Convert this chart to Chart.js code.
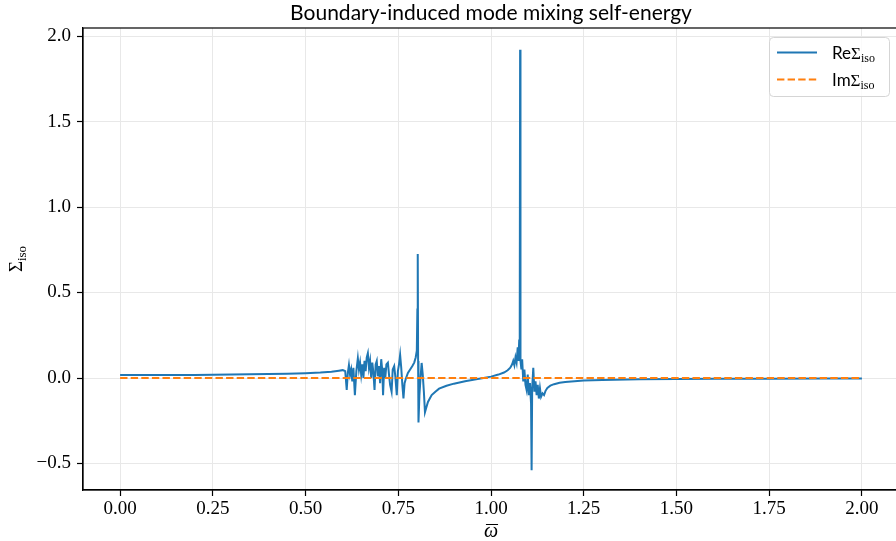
<!DOCTYPE html>
<html>
<head>
<meta charset="utf-8">
<script src="https://cdn.jsdelivr.net/npm/chart.js@4"></script>
<style>
  html, body { margin: 0; padding: 0; overflow: hidden; background: #fff; }
  canvas { display: block; }
</style>
</head>
<body>
<canvas id="chart" width="900" height="541"></canvas>
<script>
// Dimensionless frequency grid and the real part of the isotropic self-energy
const omega = [
  0.00, 0.10, 0.20, 0.30, 0.40, 0.45, 0.50, 0.54, 0.57, 0.59, 0.600,
  0.603, 0.607, 0.611, 0.614, 0.617, 0.620, 0.623, 0.626, 0.629, 0.633,
  0.637, 0.641, 0.644, 0.647, 0.650, 0.653, 0.656, 0.659, 0.662, 0.665,
  0.668, 0.671, 0.674, 0.677, 0.680, 0.683, 0.686, 0.689, 0.692, 0.695,
  0.698, 0.701, 0.704, 0.707, 0.709, 0.712, 0.715, 0.718, 0.722, 0.725,
  0.728, 0.732, 0.735, 0.739, 0.742, 0.746, 0.749, 0.752, 0.755, 0.758,
  0.761, 0.764, 0.767, 0.771, 0.776, 0.782, 0.788, 0.793, 0.797, 0.800,
  0.8015, 0.8025, 0.8035, 0.8045, 0.807, 0.810, 0.813, 0.816, 0.819, 0.822,
  0.826, 0.830, 0.835, 0.840, 0.850, 0.860, 0.880, 0.900, 0.930, 0.960,
  0.980, 1.000, 1.020, 1.035, 1.045, 1.052, 1.057, 1.060, 1.063, 1.066,
  1.069, 1.072, 1.074, 1.076, 1.0775, 1.0785, 1.0795, 1.082, 1.084, 1.087,
  1.090, 1.093, 1.096, 1.099, 1.102, 1.105, 1.108, 1.1095, 1.111, 1.114,
  1.117, 1.120, 1.123, 1.126, 1.129, 1.132, 1.135, 1.139, 1.143, 1.147,
  1.152, 1.160, 1.170, 1.185, 1.200, 1.250, 1.300, 1.400, 1.500, 1.600,
  1.750, 1.900, 2.000
];
const reSigma = [
  0.017, 0.0175, 0.018, 0.020, 0.023, 0.025, 0.028, 0.032, 0.037, 0.043, 0.046,
  0.044, 0.040, -0.070, 0.030, 0.076, 0.020, 0.050, -0.020, 0.060, -0.100,
  0.040, 0.115, 0.050, 0.090, 0.020, 0.080, 0.000, 0.100, 0.040, 0.120,
  0.145, 0.060, 0.100, 0.000, 0.090, 0.030, -0.070, 0.080, 0.100, 0.010,
  0.070, -0.030, 0.110, 0.040, -0.100, 0.060, 0.000, 0.080, 0.090, 0.020,
  -0.040, -0.080, 0.050, 0.070, 0.010, -0.100, 0.040, 0.080, 0.135, 0.060,
  -0.040, -0.120, -0.030, 0.000, 0.030, 0.050, 0.070, 0.090, 0.120, 0.160,
  0.400, 0.725, 0.100, -0.260, -0.100, 0.000, 0.088, 0.020, -0.080, -0.200,
  -0.170, -0.140, -0.120, -0.100, -0.080, -0.062, -0.045, -0.033, -0.019, -0.007,
  0.000, 0.008, 0.020, 0.032, 0.045, 0.060, 0.080, 0.100, 0.075, 0.120,
  0.090, 0.180, 0.100, 0.220, 0.300, 1.920, 0.100, 0.050, 0.110, -0.020,
  0.050, -0.040, -0.070, 0.020, -0.100, -0.030, -0.150, -0.540, -0.060, 0.060,
  -0.080, -0.020, -0.100, -0.040, -0.120, -0.060, -0.110, -0.090, -0.100, -0.075,
  -0.058, -0.045, -0.036, -0.028, -0.023, -0.015, -0.011, -0.008, -0.006, -0.005,
  -0.004, -0.003, -0.003
];
// Imaginary part vanishes across the whole range
const imOmega = [0.0, 2.0];
const imSigma = [0.0, 0.0];

const xTicks = [0, 0.25, 0.5, 0.75, 1.0, 1.25, 1.5, 1.75, 2.0];
const yTicks = [-0.5, 0.0, 0.5, 1.0, 1.5, 2.0];

const titleText = 'Boundary-induced mode mixing self-energy';

const BLUE = '#1f77b4';
const ORANGE = '#ff7f0e';
const DASH = [7.4, 3.2];
const SERIF = '"Liberation Serif", "DejaVu Serif", serif';
const SANS = 'Lato, "Open Sans", sans-serif';

const fmtMinus = s => s.replace('-', '\u2212');

// Draws a run of text pieces (base + subscript) starting at x on a baseline
function drawRuns(ctx, runs, x, y, align) {
  let total = 0;
  runs.forEach(r => { ctx.font = r.font; r.w = ctx.measureText(r.text).width; total += r.w; });
  let cx = align === 'center' ? x - total / 2 : x;
  ctx.textAlign = 'left';
  ctx.textBaseline = 'alphabetic';
  runs.forEach(r => {
    ctx.font = r.font;
    ctx.fillText(r.text, cx, y + (r.dy || 0));
    cx += r.w;
  });
}

const sigmaRuns = (prefix) => [
  { text: prefix, font: '17px ' + SANS },
  { text: 'Σ', font: '17px ' + SERIF },
  { text: 'iso', font: '12px ' + SERIF, dy: 3.5 }
];

const decorations = {
  id: 'decorations',
  afterDraw(chart) {
    const { ctx, chartArea: a } = chart;
    const midX = (a.left + a.right) / 2;
    ctx.save();
    // full frame around the axes
    ctx.strokeStyle = '#000';
    ctx.lineWidth = 1.2;
    ctx.strokeRect(a.left, a.top, a.right - a.left, a.bottom - a.top);

    ctx.fillStyle = '#000';
    // title
    ctx.font = '21px ' + SANS;
    ctx.textAlign = 'center';
    ctx.textBaseline = 'alphabetic';
    ctx.fillText(titleText, midX, 20);

    // x-axis title: omega with an overbar
    ctx.font = 'italic 20px ' + SERIF;
    const ow = ctx.measureText('ω').width;
    ctx.fillText('ω', midX, 537);
    ctx.beginPath();
    ctx.lineWidth = 1;
    ctx.moveTo(midX - ow / 2 + 2, 524.5);
    ctx.lineTo(midX + ow / 2, 524.5);
    ctx.stroke();

    // y-axis title, rotated
    ctx.save();
    ctx.translate(22, (a.top + a.bottom) / 2);
    ctx.rotate(-Math.PI / 2);
    drawRuns(ctx, [
      { text: 'Σ', font: '19px ' + SERIF },
      { text: 'iso', font: '13px ' + SERIF, dy: 4 }
    ], 0, 0, 'center');
    ctx.restore();

    // legend box
    const bx = 769.5, by = 37.5, bw = 120, bh = 59, r = 4;
    ctx.beginPath();
    ctx.moveTo(bx + r, by);
    ctx.arcTo(bx + bw, by, bx + bw, by + bh, r);
    ctx.arcTo(bx + bw, by + bh, bx, by + bh, r);
    ctx.arcTo(bx, by + bh, bx, by, r);
    ctx.arcTo(bx, by, bx + bw, by, r);
    ctx.closePath();
    ctx.fillStyle = 'rgba(255,255,255,0.8)';
    ctx.fill();
    ctx.strokeStyle = '#d5d5d5';
    ctx.lineWidth = 1;
    ctx.stroke();

    const entries = [
      { color: BLUE, dash: [], prefix: 'Re', y: 52.5 },
      { color: ORANGE, dash: DASH, prefix: 'Im', y: 79.5 }
    ];
    entries.forEach(e => {
      ctx.beginPath();
      ctx.setLineDash(e.dash);
      ctx.strokeStyle = e.color;
      ctx.lineWidth = 2;
      ctx.moveTo(777, e.y);
      ctx.lineTo(817, e.y);
      ctx.stroke();
      ctx.setLineDash([]);
      ctx.fillStyle = '#000';
      drawRuns(ctx, sigmaRuns(e.prefix), 832, e.y + 6, 'left');
    });
    ctx.restore();
  }
};

const toPoints = (xs, ys) => xs.map((x, i) => ({ x, y: ys[i] }));

new Chart(document.getElementById('chart'), {
  type: 'line',
  data: {
    datasets: [
      {
        label: 'ReΣiso',
        data: toPoints(omega, reSigma),
        borderColor: BLUE,
        borderWidth: 2,
        pointRadius: 0,
        tension: 0,
        fill: false,
        order: 2
      },
      {
        label: 'ImΣiso',
        data: toPoints(imOmega, imSigma),
        borderColor: ORANGE,
        borderWidth: 2,
        borderDash: DASH,
        pointRadius: 0,
        tension: 0,
        fill: false,
        order: 1
      }
    ]
  },
  options: {
    responsive: false,
    animation: false,
    layout: { padding: { top: 28, right: 1, left: 0, bottom: 0 } },
    plugins: {
      legend: { display: false },
      title: { display: false },
      tooltip: { enabled: false }
    },
    scales: {
      x: {
        type: 'linear',
        min: -0.1,
        max: 2.1,
        afterFit: s => { s.height = 51; },
        afterBuildTicks: s => { s.ticks = xTicks.map(v => ({ value: v })); },
        grid: { color: '#e8e8e8', lineWidth: 1, tickLength: 6, tickColor: '#000', tickWidth: 1.2 },
        border: { display: true, color: '#000', width: 1.2 },
        ticks: {
          color: '#000',
          font: { family: SERIF, size: 19 },
          padding: 2,
          maxRotation: 0,
          callback: v => fmtMinus(Number(v).toFixed(2))
        }
      },
      y: {
        type: 'linear',
        min: -0.655,
        max: 2.047,
        afterFit: s => { s.width = 83; },
        afterBuildTicks: s => { s.ticks = yTicks.map(v => ({ value: v })); },
        grid: { color: '#e8e8e8', lineWidth: 1, tickLength: 6, tickColor: '#000', tickWidth: 1.2 },
        border: { display: true, color: '#000', width: 1.2 },
        ticks: {
          color: '#000',
          font: { family: SERIF, size: 19 },
          padding: 6,
          callback: v => fmtMinus(Number(v).toFixed(1))
        }
      }
    }
  },
  plugins: [decorations]
});
</script>
</body>
</html>
